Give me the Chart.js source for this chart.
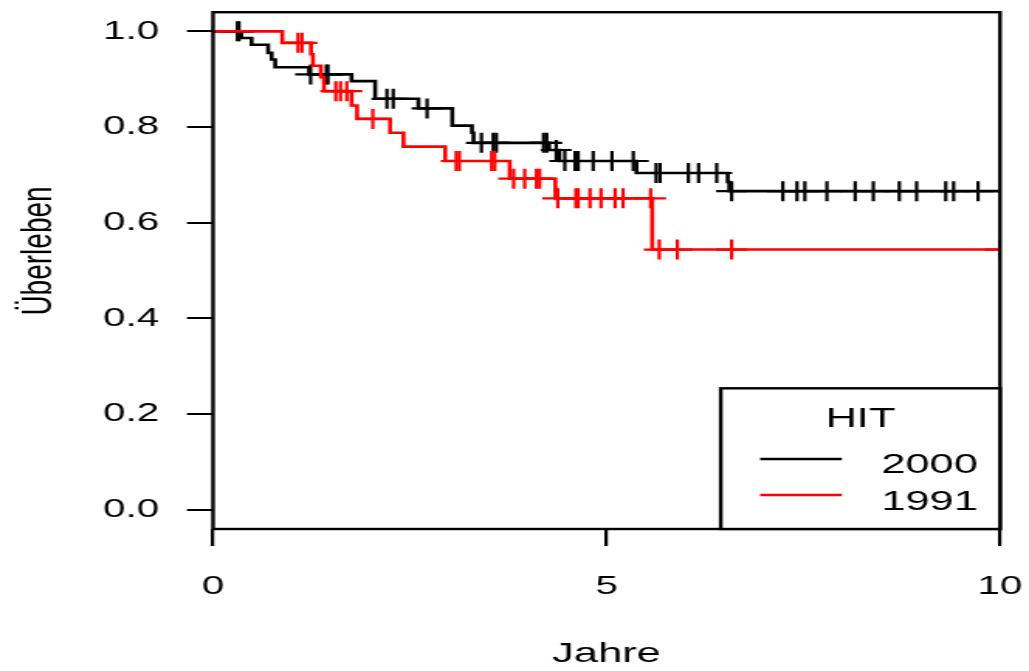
<!DOCTYPE html>
<html lang="de">
<head>
<meta charset="utf-8">
<title>Überleben HIT 2000 / HIT 1991</title>
<script src="https://cdn.jsdelivr.net/npm/chart.js@4.4.1/dist/chart.umd.min.js"></script>
<style>
  html, body { margin: 0; padding: 0; background: #fff; overflow: hidden; }
  /* the plot is laid out narrow and widened on screen */
  #stage { width: 664px; height: 671px; transform: scaleX(1.5497); transform-origin: 0 0; }
</style>
</head>
<body>
<div id="stage"><canvas id="km"></canvas></div>
<script>
const xTicks = [0, 5, 10];
const yTicks = [0, 0.2, 0.4, 0.6, 0.8, 1.0];
const groupLabels = ['2000', '1991'];
const groupColors = ['#000000', '#ff0000'];
const followUpEnd = 10;

// HIT 2000: event times (Jahre), survival after each event, censored times
const hit2000Times = [0, 0.36, 0.49, 0.70, 0.745, 0.79, 1.22, 1.76, 2.06, 2.61, 3.04, 3.29, 3.31, 4.27, 4.40, 5.38, 6.54, 6.56];
const hit2000Surv = [1.0, 0.986, 0.972, 0.955, 0.941, 0.925, 0.910, 0.896, 0.859, 0.839, 0.803, 0.788, 0.767, 0.752, 0.729, 0.704, 0.685, 0.666];
const hit2000Censored = [0.31, 0.33, 1.24, 1.44, 1.46, 2.21, 2.29, 2.72, 3.41, 3.56, 3.60, 4.20, 4.24, 4.36, 4.47, 4.60, 4.64, 4.83, 5.07, 5.34,
  5.63, 5.68, 6.04, 6.17, 6.40, 6.59, 7.24, 7.42, 7.52, 7.80, 8.16, 8.39, 8.72, 8.94, 9.31, 9.41, 9.72];

// HIT 1991
const hit1991Times = [0, 0.88, 1.245, 1.27, 1.37, 1.41, 1.76, 1.83, 2.25, 2.42, 2.95, 3.77, 4.35, 5.58];
const hit1991Surv = [1.0, 0.976, 0.952, 0.928, 0.904, 0.875, 0.845, 0.817, 0.788, 0.759, 0.729, 0.692, 0.651, 0.544];
const hit1991Censored = [1.08, 1.13, 1.56, 1.62, 1.70, 2.03, 3.09, 3.13, 3.54, 3.58, 3.82, 3.96, 4.11, 4.15, 4.38, 4.61, 4.64, 4.79,
  4.93, 5.11, 5.21, 5.56, 5.67, 5.90, 6.59, 10.0];

const FONT = '"Liberation Sans", Arial, sans-serif';
Chart.defaults.font.family = FONT;
Chart.defaults.color = '#000';

function stepPoints(times, surv, end) {
  const pts = times.map((t, i) => ({ x: t, y: surv[i] }));
  pts.push({ x: end, y: surv[surv.length - 1] });
  return pts;
}

function survivalAt(times, surv, t) {
  let s = surv[0];
  times.forEach((et, i) => {
    if (et <= t) s = surv[i];
  });
  return s;
}

function censorPoints(times, surv, censored) {
  return censored.map((t) => ({ x: t, y: survivalAt(times, surv, t) }));
}

function curve(label, color, points, order) {
  return {
    label,
    data: points,
    showLine: true,
    stepped: true,
    borderColor: color,
    borderWidth: 2.6,
    pointRadius: 0,
    order,
  };
}

function marks(label, color, points, order) {
  return {
    label,
    data: points,
    showLine: false,
    pointStyle: 'cross',
    pointRadius: 10,
    pointBorderWidth: 2.2,
    pointBorderColor: color,
    pointBackgroundColor: color,
    clip: 0,
    order,
  };
}

const boxAndLegend = {
  id: 'boxAndLegend',
  afterDraw(chart) {
    const { ctx, chartArea: a } = chart;
    ctx.save();
    ctx.strokeStyle = '#000';
    ctx.lineWidth = 2.4;
    ctx.strokeRect(a.left, a.top, a.right - a.left, a.bottom - a.top);

    // y axis title
    ctx.fillStyle = '#000';
    ctx.font = `28px ${FONT}`;
    ctx.textAlign = 'center';
    ctx.textBaseline = 'alphabetic';
    ctx.save();
    ctx.translate(33.4, 251);
    ctx.rotate(-Math.PI / 2);
    ctx.fillText('Überleben', 0, 0);
    ctx.restore();

    // legend box in the lower right corner
    const w = 180.2;
    const h = 140.7;
    const left = a.right - w;
    const top = a.bottom - h;
    ctx.fillStyle = '#fff';
    ctx.fillRect(left, top, w, h);
    ctx.strokeRect(left, top, w, h);
    ctx.fillStyle = '#000';
    ctx.textAlign = 'center';
    ctx.fillText('HIT', left + w / 2, top + 38.4);
    ctx.textAlign = 'right';
    groupLabels.forEach((label, i) => {
      const y = top + 70.7 + i * 36;
      ctx.strokeStyle = groupColors[i];
      ctx.lineWidth = 2.6;
      ctx.beginPath();
      ctx.moveTo(left + 25.4, y);
      ctx.lineTo(left + 78.1, y);
      ctx.stroke();
      ctx.fillStyle = '#000';
      ctx.fillText(label, a.right - 14.3, y + 13.7 + i * 1.3);
    });
    ctx.restore();
  },
};

new Chart(document.getElementById('km'), {
  type: 'scatter',
  data: {
    datasets: [
      curve('1991', groupColors[1], stepPoints(hit1991Times, hit1991Surv, followUpEnd), 0),
      marks('1991 zensiert', groupColors[1], censorPoints(hit1991Times, hit1991Surv, hit1991Censored), 1),
      curve('2000', groupColors[0], stepPoints(hit2000Times, hit2000Surv, followUpEnd), 2),
      marks('2000 zensiert', groupColors[0], censorPoints(hit2000Times, hit2000Surv, hit2000Censored), 3),
    ],
  },
  options: {
    responsive: true,
    maintainAspectRatio: false,
    animation: false,
    layout: { padding: { left: 0, right: 18.7, top: 12, bottom: 0 } },
    plugins: {
      legend: { display: false },
      tooltip: { enabled: false },
    },
    scales: {
      x: {
        type: 'linear',
        min: 0,
        max: followUpEnd,
        afterBuildTicks: (scale) => { scale.ticks = xTicks.map((v) => ({ value: v })); },
        afterFit: (scale) => { scale.height = 142; scale.paddingLeft = 0; scale.paddingRight = 0; },
        ticks: { font: { size: 26 }, padding: 25, maxRotation: 0, autoSkip: false, color: '#000', callback: (v) => String(v) },
        grid: { drawOnChartArea: false, tickLength: 17, color: '#000', lineWidth: 2.2 },
        border: { display: false },
        title: { display: true, text: 'Jahre', font: { size: 28 }, padding: { top: 0, bottom: 0 }, color: '#000' },
      },
      y: {
        type: 'linear',
        min: -0.04,
        max: 1.04,
        afterBuildTicks: (scale) => { scale.ticks = yTicks.map((v) => ({ value: v })); },
        afterFit: (scale) => { scale.width = 137.45; scale.paddingTop = 0; scale.paddingBottom = 0; },
        ticks: { font: { size: 26 }, padding: 18, autoSkip: false, color: '#000', callback: (v) => Number(v).toFixed(1) },
        grid: { drawOnChartArea: false, tickLength: 16.8, color: '#000', lineWidth: 2 },
        border: { display: false },
      },
    },
  },
  plugins: [boxAndLegend],
});
</script>
</body>
</html>
